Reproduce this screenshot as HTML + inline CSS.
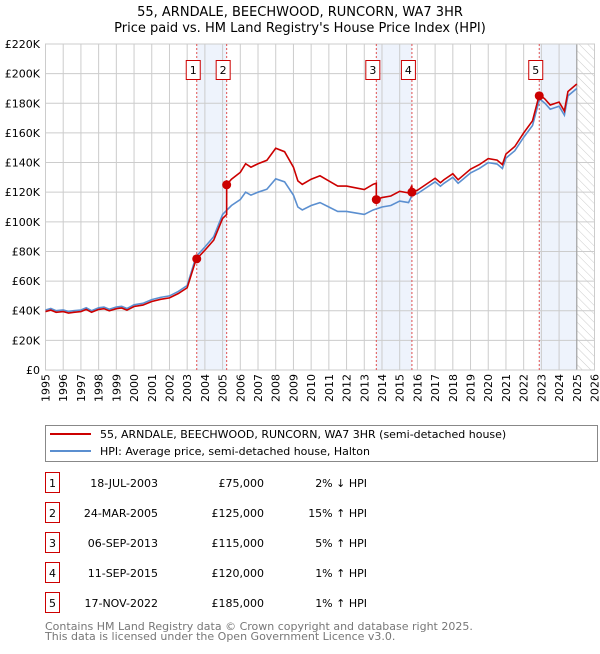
<!DOCTYPE html>
<html><head><meta charset="utf-8">
<style>
body{margin:0;background:#fff;width:600px;height:650px;overflow:hidden;font-family:"DejaVu Sans","Liberation Sans",sans-serif;}
svg text{font-family:"DejaVu Sans","Liberation Sans",sans-serif;}
</style></head>
<body>
<svg id="chart" width="600" height="650" viewBox="0 0 600 650" xmlns="http://www.w3.org/2000/svg">
<defs>
<pattern id="hatch" width="6" height="6" patternUnits="userSpaceOnUse" patternTransform="rotate(-45)">
<line x1="0" y1="0" x2="0" y2="6" stroke="#ccc" stroke-width="1"/></pattern>
</defs>
<text x="300" y="16" text-anchor="middle" font-size="13" fill="#000">55, ARNDALE, BEECHWOOD, RUNCORN, WA7 3HR</text>
<text x="300" y="32" text-anchor="middle" font-size="13" fill="#000">Price paid vs. HM Land Registry's House Price Index (HPI)</text>
<g id="plot"></g>
<g>
<rect x="45.5" y="425.5" width="552" height="36" fill="#fff" stroke="#888"/>
<line x1="50" y1="434" x2="91" y2="434" stroke="#cc0000" stroke-width="2"/>
<text x="100" y="438" font-size="11">55, ARNDALE, BEECHWOOD, RUNCORN, WA7 3HR (semi-detached house)</text>
<line x1="50" y1="451" x2="91" y2="451" stroke="#5b8fd0" stroke-width="2"/>
<text x="100" y="455" font-size="11">HPI: Average price, semi-detached house, Halton</text>
</g>
<g id="table" font-size="11"></g>
<text x="45" y="630" font-size="11" fill="#777">Contains HM Land Registry data © Crown copyright and database right 2025.</text>
<text x="45" y="640" font-size="11" fill="#777">This data is licensed under the Open Government Licence v3.0.</text>
</svg>
<script>
const hpiYears=[1995,1995.3,1995.6,1996,1996.3,1996.6,1997,1997.3,1997.6,1998,1998.3,1998.6,1999,1999.3,1999.6,2000,2000.5,2001,2001.5,2002,2002.5,2003,2003.5,2004,2004.5,2005,2005.5,2006,2006.3,2006.6,2007,2007.5,2008,2008.5,2009,2009.25,2009.5,2010,2010.5,2011,2011.5,2012,2012.5,2013,2013.5,2014,2014.5,2015,2015.5,2015.7,2016,2016.5,2017,2017.3,2017.5,2018,2018.3,2018.5,2019,2019.5,2020,2020.5,2020.8,2021,2021.5,2022,2022.5,2022.9,2023.2,2023.5,2024,2024.3,2024.5,2025];
const hpiValues=[40.5,41.5,40,40.5,39.5,40,40.5,42,40,42,42.5,41,42.5,43,41.5,44,45,47.5,49,50,53,57,76.5,83,90,105,111,115,120,118,120,122,129,127,118,110,108,111,113,110,107,107,106,105,108,110,111,114,113,118,119,123,127,124,126,130,126,128,133,136,140,139,136,143,148,157,165,183,180,176,178,172,185,190];
const saleYears=[2003.54,2005.23,2013.68,2015.69,2022.88];
const salePrices=[75,125,115,120,185];
const saleDates=["18-JUL-2003","24-MAR-2005","06-SEP-2013","11-SEP-2015","17-NOV-2022"];
const salePriceLabels=["£75,000","£125,000","£115,000","£120,000","£185,000"];
const saleHpiLabels=["2% ↓ HPI","15% ↑ HPI","5% ↑ HPI","1% ↑ HPI","1% ↑ HPI"];
const yTicks=[0,20,40,60,80,100,120,140,160,180,200,220];
const yTickLabels=["£0","£20K","£40K","£60K","£80K","£100K","£120K","£140K","£160K","£180K","£200K","£220K"];
const NS="http://www.w3.org/2000/svg";
const X0=45.5,X1=594.5,Y0=370,Y1=44;
const xs=y=>X0+(y-1995)/(2026-1995)*(X1-X0);
const ys=v=>Y0-v/220*(Y0-Y1);
const plot=document.getElementById('plot');
function mk(tag,attrs,parent){const e=document.createElementNS(NS,tag);for(const k in attrs)e.setAttribute(k,attrs[k]);(parent||plot).appendChild(e);return e;}
function hpiAt(t){for(let i=0;i<hpiYears.length-1;i++){if(t<=hpiYears[i+1]){const f=(t-hpiYears[i])/(hpiYears[i+1]-hpiYears[i]);return hpiValues[i]+f*(hpiValues[i+1]-hpiValues[i]);}}return hpiValues[hpiValues.length-1];}
const shades=[[saleYears[0],saleYears[1]],[saleYears[2],saleYears[3]],[saleYears[4],2025.0]];
shades.forEach((s,i)=>{const r=mk('rect',{x:xs(s[0]),y:Y1,width:xs(s[1])-xs(s[0]),height:Y0-Y1,fill:'#eef3fc'});

});
const h=mk('rect',{x:xs(2025),y:Y1,width:X1-xs(2025),height:Y0-Y1,fill:'url(#hatch)'});


for(let yr=1995;yr<=2026;yr++){const l=mk('line',{x1:xs(yr),x2:xs(yr),y1:Y1,y2:Y0,stroke:'#ccc','stroke-width':1});


const t=mk('text',{x:0,y:0,'font-size':11,'text-anchor':'end',transform:`translate(${xs(yr)+4},${Y0+4}) rotate(-90)`});
t.textContent=yr;

}
yTicks.forEach((v,i)=>{const l=mk('line',{x1:X0,x2:X1,y1:ys(v),y2:ys(v),stroke:'#ccc','stroke-width':1});


const t=mk('text',{x:40,y:ys(v)+4,'font-size':11,'text-anchor':'end'});
t.textContent=yTickLabels[i];

});
const ed=mk('line',{x1:xs(2025),x2:xs(2025),y1:Y1,y2:Y0,stroke:'#999','stroke-width':1});


mk('rect',{x:X0,y:Y1,width:X1-X0,height:Y0-Y1,fill:'none',stroke:'#ccc'});
saleYears.forEach((s,i)=>{const l=mk('line',{x1:xs(s),x2:xs(s),y1:Y1,y2:Y0,stroke:'#e05050','stroke-width':1,'stroke-dasharray':'2,2'});


const bx=xs(s);
const g=mk('g',{});


mk('rect',{x:bx-10.5,y:60.5,width:14,height:19,fill:'#fff',stroke:'#cc0000'},g);
const t=mk('text',{x:bx-3.5,y:74,'font-size':11,'text-anchor':'middle'},g);t.textContent=i+1;});
const hp=hpiYears.map((y,i)=>xs(y)+','+ys(hpiValues[i])).join(' ');
const hl=mk('polyline',{points:hp,fill:'none',stroke:'#5b8fd0','stroke-width':1.6});


let pts=[];
function ratioAt(t){let r=null;for(let i=saleYears.length-1;i>=0;i--){if(t>=saleYears[i]){r=salePrices[i]/hpiAt(saleYears[i]);break;}}return r===null?salePrices[0]/hpiAt(saleYears[0]):r;}
const ts=[];hpiYears.forEach(y=>ts.push(y));saleYears.forEach(s=>{ts.push(s-0.001);ts.push(s);});ts.sort((a,b)=>a-b);
ts.forEach(t=>pts.push(xs(t)+','+ys(hpiAt(t)*ratioAt(t))));
const rl=mk('polyline',{points:pts.join(' '),fill:'none',stroke:'#cc0000','stroke-width':1.6});


saleYears.forEach((s,i)=>{const c=mk('circle',{cx:xs(s),cy:ys(salePrices[i]),r:4.5,fill:'#cc0000'});

});
const tb=document.getElementById('table');
saleDates.forEach((d,i)=>{const y=483+i*30;const g=mk('g',{},tb);


mk('rect',{x:45.5,y:y-10.5,width:14,height:20,fill:'#fff',stroke:'#cc0000'},g);
let t=mk('text',{x:52.5,y:y+4,'text-anchor':'middle'},g);t.textContent=i+1;
t=mk('text',{x:158,y:y+4,'text-anchor':'end'},g);t.textContent=d;
t=mk('text',{x:264,y:y+4,'text-anchor':'end'},g);t.textContent=salePriceLabels[i];
t=mk('text',{x:367,y:y+4,'text-anchor':'end'},g);t.textContent=saleHpiLabels[i];});
</script>
</body></html>
